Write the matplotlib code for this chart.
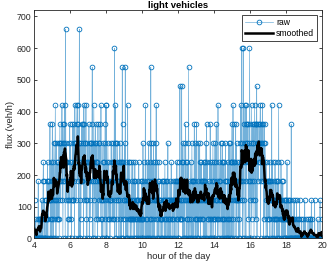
import numpy as np
import matplotlib
matplotlib.use("Agg")
import matplotlib.pyplot as plt

# vehicles counted per minute, one string per hour (hex digit = count), 4:00 -> 20:00
counts_by_hour = [
    "0200010000" "0013001010" "1001020103" "4301200011" "2031403122" "3260214013",  # 4h
    "6204053125" "7302514312" "4150362543" "5472603556" "3740B42534" "4201132564",  # 5h
    "3512043622" "2635074542" "5674736055" "B020514363" "3564072654" "5271402533",  # 6h
    "4360254135" "5469050374" "2503641534" "4061535236" "3172201045" "2403516270",  # 7h
    "7304253143" "1202315243" "3145214A05" "7250413523" "2403152404" "3049614023",  # 8h
    "2519043202" "0713402411" "2014203141" "1302041312" "0221302041" "1102120311",  # 9h
    "3051402322" "7021304120" "2530412091" "5203140532" "3042517240" "2130420312",  # 10h
    "2101300123" "2310240213" "1203150221" "2031204221" "1203212032" "2302141320",  # 11h
    "3024183121" "2814052403" "3052640214" "1205902130" "2410352032" "3026130512",  # 12h
    "6102305012" "2514032413" "2130423042" "3052604212" "1302416001" "2403152041",  # 13h
    "3150426213" "2071302412" "3502415041" "2041302530" "1203401051" "3052401460",  # 14h
    "4271604423" "3602514232" "2041305273" "4A2503A420" "6574607356" "5461530A63",  # 15h
    "2504713562" "5603742616" "6805563546" "5467053645" "7364051635" "4302410332",  # 16h
    "2131403222" "3701402312" "2041231203" "1304720212" "2140312031" "1021020112",  # 17h
    "2140120210" "1020006010" "1012010200" "0100200010" "0010200000" "1000001000",  # 18h
    "0200100000" "0010000100" "1002001000" "0000200000" "0000010000" "0020000000",  # 19h
]
last_count = "1"  # 20:00

start_hour = 4
smooth_span = 11

counts = np.array([int(c, 16) for c in "".join(counts_by_hour) + last_count])
flux = counts * 60.0                       # veh/h
hours = start_hour + np.arange(len(flux)) / 60.0

# centred moving average, shrinking at the ends
half = smooth_span // 2
smoothed = np.array([flux[max(0, i - half):i + half + 1].mean() for i in range(len(flux))])

plt.rcParams['font.family'] = 'Liberation Sans'
fig = plt.figure(figsize=(3.27, 2.67), dpi=100)
ax = fig.add_axes([0.105, 0.107, 0.881, 0.855])

blue = '#0072BD'
ax.plot(hours, flux, '-o', color=(0, 0.447, 0.741, 0.55), lw=0.5, ms=3.4, mew=0.6,
        mec=blue, mfc='none', label='raw')
ax.plot(hours, smoothed, color='black', lw=1.8, label='smoothed')

ax.set_xlim(4, 20)
ax.set_ylim(0, 720)
ax.set_xticks(range(4, 21, 2))
ax.set_yticks(range(0, 701, 100))

gray = '#262626'
for s in ax.spines.values():
    s.set_color(gray)
    s.set_linewidth(0.6)
ax.tick_params(direction='in', length=2.5, width=0.6, colors=gray,
               labelsize=6.3, top=True, right=True, pad=2)

ax.set_xlabel('hour of the day', fontsize=6.8, color=gray, labelpad=1)
ax.set_ylabel('flux (veh/h)', fontsize=6.8, color=gray, labelpad=1)
ax.set_title('light vehicles', fontsize=6.8, fontweight='bold', pad=1.5)

leg = ax.legend(loc='upper right', fontsize=6.2, fancybox=False,
                framealpha=1, edgecolor=gray, borderpad=0.35,
                handlelength=3.2, labelspacing=0.25, handletextpad=0.4,
                borderaxespad=0.6)
leg.get_frame().set_linewidth(0.6)

plt.savefig('out.png', dpi=100)
